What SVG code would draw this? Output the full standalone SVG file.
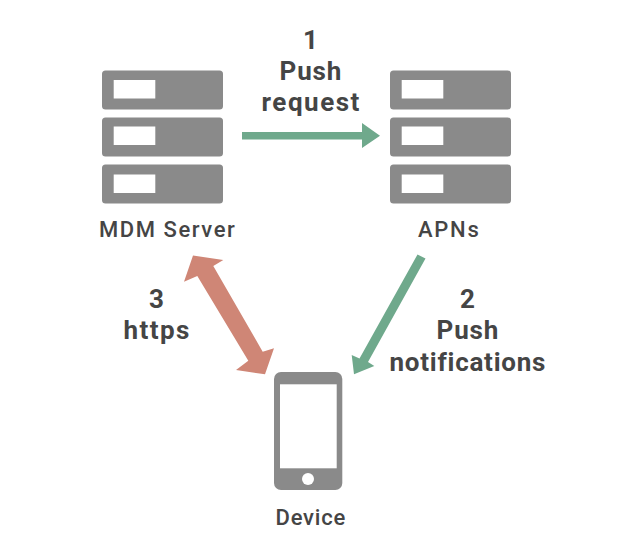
<svg xmlns="http://www.w3.org/2000/svg" width="620" height="556" viewBox="0 0 620 556">
<style>
text{font-family:"Roboto","Liberation Sans",sans-serif;fill:#454545;text-anchor:middle}
.n{font-size:22px;font-weight:500;letter-spacing:1.2px}
.l{font-size:26px;font-weight:700;letter-spacing:1.1px}
.g{fill:#8a8a8a}
.w{fill:#fff}
.grn{fill:#6fa98c}
.red{fill:#cf8676}
</style>
<defs>
<g id="server">
<rect class="g" x="0" y="0" width="121" height="39" rx="3.5"/>
<rect class="w" x="11.7" y="9.5" width="41.6" height="18.5"/>
<rect class="g" x="0" y="47" width="121" height="39" rx="3.5"/>
<rect class="w" x="11.7" y="56" width="41.6" height="18.5"/>
<rect class="g" x="0" y="94" width="121" height="39" rx="3.5"/>
<rect class="w" x="11.7" y="104" width="41.6" height="18.5"/>
</g>
</defs>
<rect width="620" height="556" fill="#fff"/>
<g id="connectors">
<polygon id="c1" class="grn" points="242,132 362,132 362,123 380,135.700 362,148 362,139.500 242,139.500"/>
<polygon id="c2" class="grn" points="417.500,254.500 425.500,258.500 368,362 374.300,366 354,374.300 351.700,355 359.500,358.500"/>
<polygon id="c3" class="red" points="193,255.500 223.300,260 213.300,266 262.700,351.700 274,348.300 265,374.300 236,370 248.300,360.700 197.300,276 184,281.700"/>
</g>
<g id="mdm-server">
<use href="#server" x="102" y="70.500"/>
<text class="n" x="167.500" y="237" textLength="137">MDM Server</text>
</g>
<g id="apns">
<use href="#server" x="390" y="70.500"/>
<text class="n" x="449" y="237" textLength="62">APNs</text>
</g>
<g id="device">
<rect class="g" x="274" y="372" width="68.300" height="118" rx="7"/>
<rect class="w" x="280" y="384.300" width="56.700" height="84"/>
<circle class="w" cx="308" cy="479" r="6"/>
<text class="n" x="311" y="525" textLength="71">Device</text>
</g>
<g id="labels">
<text class="l" x="311" y="49">1</text>
<text class="l" x="311" y="80" textLength="63">Push</text>
<text class="l" x="311" y="111" textLength="99">request</text>
<text class="l" x="157" y="308">3</text>
<text class="l" x="157" y="339" textLength="67">https</text>
<text class="l" x="468" y="308">2</text>
<text class="l" x="468" y="339" textLength="63">Push</text>
<text class="l" x="468" y="371" textLength="157">notifications</text>
</g>
</svg>
